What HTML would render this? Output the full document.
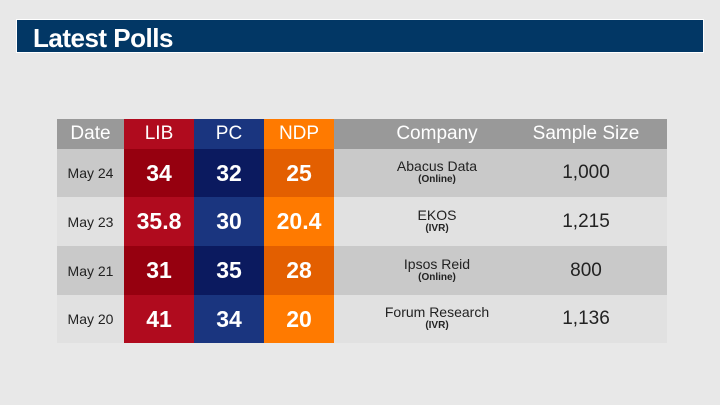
<!DOCTYPE html>
<html><head><style>
body{margin:0;width:720px;height:405px;background:#e8e8e8;position:relative;overflow:hidden;font-family:"Liberation Sans",sans-serif}
.bar{position:absolute;left:16px;top:19px;width:688px;height:34px;background:#023765;border:1px solid #fff;box-sizing:border-box}
.bar span{position:absolute;left:16px;top:2px;color:#fff;font-weight:bold;font-size:26px;letter-spacing:-0.5px;line-height:32px}
.c{position:absolute;display:flex;align-items:center;justify-content:center;text-align:center;color:#222}
.h{color:#fff;font-size:19px}
.n{color:#fff;font-size:23px;font-weight:bold}
.d{font-size:14px}
.co{font-size:14px;line-height:13px;flex-direction:column}
.co b{font-size:10px}
.s{font-size:19px}
</style></head><body>
<div class="bar"><span>Latest Polls</span></div>

<div class="c h" style="left:57px;top:119px;width:610px;height:30px;background:#999"></div>
<div class="c h" style="left:57px;top:119px;width:67px;height:30px">Date</div>
<div class="c h" style="left:124px;top:119px;width:70px;height:30px;background:#b00b1e">LIB</div>
<div class="c h" style="left:194px;top:119px;width:70px;height:30px;background:#1a357f">PC</div>
<div class="c h" style="left:264px;top:119px;width:70px;height:30px;background:#ff7a00">NDP</div>
<div class="c h" style="left:334px;top:119px;width:206px;height:30px">Company</div>
<div class="c h" style="left:505px;top:119px;width:162px;height:30px">Sample Size</div>

<div class="c" style="left:57px;top:149px;width:610px;height:48px;background:#c9c9c9"></div>
<div class="c" style="left:57px;top:197px;width:610px;height:49px;background:#e1e1e1"></div>
<div class="c" style="left:57px;top:246px;width:610px;height:49px;background:#c9c9c9"></div>
<div class="c" style="left:57px;top:295px;width:610px;height:48px;background:#e1e1e1"></div>

<div class="c d" style="left:57px;top:149px;width:67px;height:48px">May 24</div>
<div class="c n" style="left:124px;top:149px;width:70px;height:48px;background:#96000f">34</div>
<div class="c n" style="left:194px;top:149px;width:70px;height:48px;background:#0b1a5f">32</div>
<div class="c n" style="left:264px;top:149px;width:70px;height:48px;background:#e35f00">25</div>
<div class="c co" style="left:334px;top:149px;width:206px;height:48px">Abacus Data<b>(Online)</b></div>
<div class="c s" style="left:505px;top:149px;width:162px;height:48px">1,000</div>

<div class="c d" style="left:57px;top:197px;width:67px;height:49px">May 23</div>
<div class="c n" style="left:124px;top:197px;width:70px;height:49px;background:#b00b1e">35.8</div>
<div class="c n" style="left:194px;top:197px;width:70px;height:49px;background:#1a357f">30</div>
<div class="c n" style="left:264px;top:197px;width:70px;height:49px;background:#ff7a00">20.4</div>
<div class="c co" style="left:334px;top:197px;width:206px;height:49px">EKOS<b>(IVR)</b></div>
<div class="c s" style="left:505px;top:197px;width:162px;height:49px">1,215</div>

<div class="c d" style="left:57px;top:246px;width:67px;height:49px">May 21</div>
<div class="c n" style="left:124px;top:246px;width:70px;height:49px;background:#96000f">31</div>
<div class="c n" style="left:194px;top:246px;width:70px;height:49px;background:#0b1a5f">35</div>
<div class="c n" style="left:264px;top:246px;width:70px;height:49px;background:#e35f00">28</div>
<div class="c co" style="left:334px;top:246px;width:206px;height:49px">Ipsos Reid<b>(Online)</b></div>
<div class="c s" style="left:505px;top:246px;width:162px;height:49px">800</div>

<div class="c d" style="left:57px;top:295px;width:67px;height:48px">May 20</div>
<div class="c n" style="left:124px;top:295px;width:70px;height:48px;background:#b00b1e">41</div>
<div class="c n" style="left:194px;top:295px;width:70px;height:48px;background:#1a357f">34</div>
<div class="c n" style="left:264px;top:295px;width:70px;height:48px;background:#ff7a00">20</div>
<div class="c co" style="left:334px;top:295px;width:206px;height:48px">Forum Research<b>(IVR)</b></div>
<div class="c s" style="left:505px;top:295px;width:162px;height:48px">1,136</div>
</body></html>
